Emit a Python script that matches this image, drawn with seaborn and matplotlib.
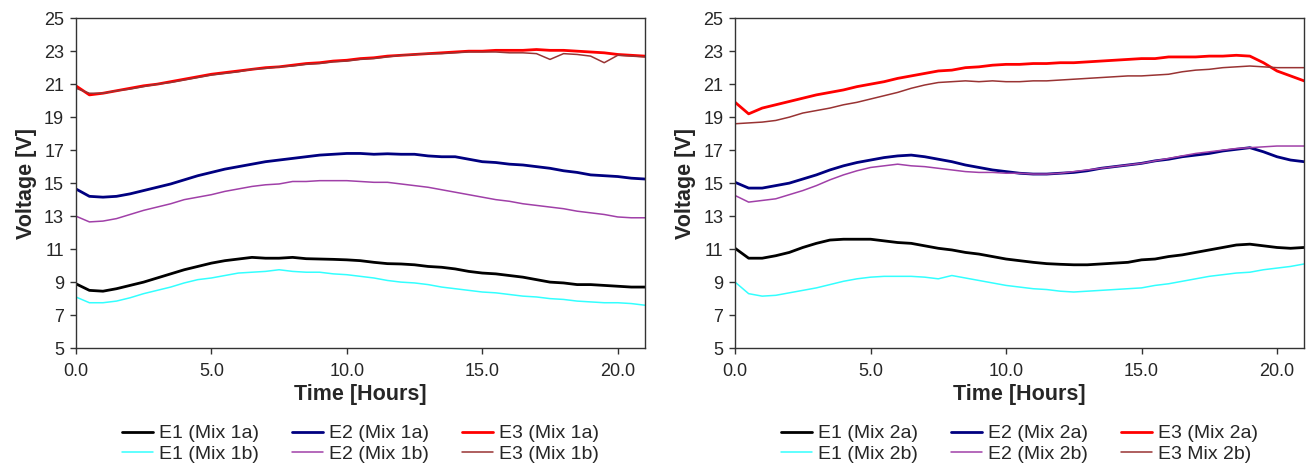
import numpy as np
import pandas as pd
import matplotlib.pyplot as plt
import seaborn as sns

hours = [0.0, 0.5, 1.0, 1.5, 2.0, 2.5, 3.0, 3.5, 4.0, 4.5, 5.0, 5.5, 6.0, 6.5, 7.0,
         7.5, 8.0, 8.5, 9.0, 9.5, 10.0, 10.5, 11.0, 11.5, 12.0, 12.5, 13.0, 13.5,
         14.0, 14.5, 15.0, 15.5, 16.0, 16.5, 17.0, 17.5, 18.0, 18.5, 19.0, 19.5,
         20.0, 20.5, 21.0]

# left panel: Mix 1a / 1b
e1_1a = [8.9, 8.5, 8.45, 8.6, 8.8, 9.0, 9.25, 9.5, 9.75, 9.95, 10.15, 10.3, 10.4, 10.5, 10.45,
         10.45, 10.5, 10.42, 10.4, 10.38, 10.35, 10.3, 10.2, 10.12, 10.1, 10.05, 9.95, 9.9,
         9.8, 9.65, 9.55, 9.5, 9.4, 9.3, 9.15, 9.0, 8.95, 8.85, 8.85, 8.8, 8.75, 8.7, 8.7]
e1_1b = [8.1, 7.75, 7.75, 7.85, 8.05, 8.3, 8.5, 8.7, 8.95, 9.15, 9.25, 9.4, 9.55, 9.6, 9.65,
         9.75, 9.65, 9.6, 9.6, 9.5, 9.45, 9.35, 9.25, 9.1, 9.0, 8.95, 8.85, 8.7, 8.6, 8.5,
         8.4, 8.35, 8.25, 8.15, 8.1, 8.0, 7.95, 7.85, 7.8, 7.75, 7.75, 7.7, 7.6]
e2_1a = [14.65, 14.2, 14.15, 14.2, 14.35, 14.55, 14.75, 14.95, 15.2, 15.45, 15.65, 15.85, 16.0,
         16.15, 16.3, 16.4, 16.5, 16.6, 16.7, 16.75, 16.8, 16.8, 16.75, 16.78, 16.75, 16.75,
         16.65, 16.6, 16.6, 16.45, 16.3, 16.25, 16.15, 16.1, 16.0, 15.9, 15.75, 15.65, 15.5,
         15.45, 15.4, 15.3, 15.25]
e2_1b = [13.0, 12.65, 12.7, 12.85, 13.1, 13.35, 13.55, 13.75, 14.0, 14.15, 14.3, 14.5, 14.65,
         14.8, 14.9, 14.95, 15.1, 15.1, 15.15, 15.15, 15.15, 15.1, 15.05, 15.05, 14.95, 14.85,
         14.75, 14.6, 14.45, 14.3, 14.15, 14.0, 13.9, 13.75, 13.65, 13.55, 13.45, 13.3, 13.2,
         13.1, 12.95, 12.9, 12.9]
e3_1a = [20.9, 20.35, 20.45, 20.6, 20.75, 20.9, 21.0, 21.15, 21.3, 21.45, 21.6, 21.7, 21.8,
         21.9, 22.0, 22.05, 22.15, 22.25, 22.3, 22.4, 22.45, 22.55, 22.6, 22.7, 22.75, 22.8,
         22.85, 22.9, 22.95, 23.0, 23.0, 23.05, 23.05, 23.05, 23.1, 23.05, 23.05, 23.0, 22.95,
         22.9, 22.8, 22.75, 22.7]
e3_1b = [20.75, 20.45, 20.45, 20.6, 20.7, 20.85, 21.0, 21.1, 21.25, 21.4, 21.55, 21.65, 21.75,
         21.9, 21.95, 22.05, 22.1, 22.2, 22.25, 22.35, 22.4, 22.5, 22.55, 22.65, 22.75, 22.8,
         22.85, 22.85, 22.9, 22.95, 22.95, 22.95, 22.9, 22.9, 22.85, 22.5, 22.85, 22.8, 22.7,
         22.3, 22.75, 22.7, 22.65]

# right panel: Mix 2a / 2b
e1_2a = [11.05, 10.45, 10.45, 10.6, 10.8, 11.1, 11.35, 11.55, 11.6, 11.6, 11.6, 11.5, 11.4,
         11.35, 11.2, 11.05, 10.95, 10.8, 10.7, 10.55, 10.4, 10.3, 10.2, 10.12, 10.08, 10.05,
         10.05, 10.1, 10.15, 10.2, 10.35, 10.4, 10.55, 10.65, 10.8, 10.95, 11.1, 11.25, 11.3,
         11.2, 11.1, 11.05, 11.1]
e1_2b = [9.0, 8.3, 8.15, 8.2, 8.35, 8.5, 8.65, 8.85, 9.05, 9.2, 9.3, 9.35, 9.35, 9.35, 9.3,
         9.2, 9.4, 9.25, 9.1, 8.95, 8.8, 8.7, 8.6, 8.55, 8.45, 8.4, 8.45, 8.5, 8.55, 8.6, 8.65,
         8.8, 8.9, 9.05, 9.2, 9.35, 9.45, 9.55, 9.6, 9.75, 9.85, 9.95, 10.1]
e2_2a = [15.05, 14.7, 14.7, 14.85, 15.0, 15.25, 15.5, 15.8, 16.05, 16.25, 16.4, 16.55, 16.65,
         16.7, 16.6, 16.45, 16.3, 16.1, 15.95, 15.8, 15.7, 15.6, 15.55, 15.55, 15.6, 15.65,
         15.75, 15.9, 16.0, 16.1, 16.2, 16.35, 16.45, 16.6, 16.7, 16.8, 16.95, 17.05, 17.15,
         16.9, 16.6, 16.4, 16.3]
e2_2b = [14.25, 13.85, 13.95, 14.05, 14.3, 14.55, 14.85, 15.2, 15.5, 15.75, 15.95, 16.05, 16.15,
         16.05, 16.0, 15.9, 15.8, 15.7, 15.65, 15.65, 15.6, 15.6, 15.55, 15.55, 15.6, 15.7,
         15.8, 15.9, 16.0, 16.1, 16.2, 16.35, 16.5, 16.65, 16.8, 16.9, 17.0, 17.1, 17.15, 17.2,
         17.25, 17.25, 17.25]
e3_2a = [19.9, 19.2, 19.55, 19.75, 19.95, 20.15, 20.35, 20.5, 20.65, 20.85, 21.0, 21.15, 21.35,
         21.5, 21.65, 21.8, 21.85, 22.0, 22.05, 22.15, 22.2, 22.2, 22.25, 22.25, 22.3, 22.3,
         22.35, 22.4, 22.45, 22.5, 22.55, 22.55, 22.65, 22.65, 22.65, 22.7, 22.7, 22.75, 22.7,
         22.3, 21.8, 21.5, 21.2]
e3_2b = [18.6, 18.65, 18.7, 18.8, 19.0, 19.25, 19.4, 19.55, 19.75, 19.9, 20.1, 20.3, 20.5,
         20.75, 20.95, 21.1, 21.15, 21.2, 21.15, 21.2, 21.15, 21.15, 21.2, 21.2, 21.25, 21.3,
         21.35, 21.4, 21.45, 21.5, 21.5, 21.55, 21.6, 21.75, 21.85, 21.9, 22.0, 22.05, 22.1,
         22.05, 22.0, 22.0, 22.0]

labels_1 = ["E1 (Mix 1a)", "E1 (Mix 1b)", "E2 (Mix 1a)", "E2 (Mix 1b)", "E3 (Mix 1a)", "E3 (Mix 1b)"]
labels_2 = ["E1 (Mix 2a)", "E1 (Mix 2b)", "E2 (Mix 2a)", "E2 (Mix 2b)", "E3 (Mix 2a)", "E3 Mix 2b)"]
series_1 = [e1_1a, e1_1b, e2_1a, e2_1b, e3_1a, e3_1b]
series_2 = [e1_2a, e1_2b, e2_2a, e2_2b, e3_2a, e3_2b]

colors = ["#000000", "#33ffff", "#000080", "#a040a8", "#ff0000", "#993333"]
widths = [2.0, 1.1, 2.0, 1.1, 2.0, 1.1]

sns.set_style("ticks")
plt.rcParams['font.family'] = ['Liberation Sans', 'DejaVu Sans']

fig = plt.figure(figsize=(13.08, 4.66), dpi=100)
ax1 = fig.add_axes([0.058, 0.253, 0.435, 0.708])
ax2 = fig.add_axes([0.562, 0.253, 0.435, 0.708])

for ax, labels, series in [(ax1, labels_1, series_1), (ax2, labels_2, series_2)]:
    df = pd.DataFrame({'Time': hours * 6,
                       'Voltage': np.concatenate(series),
                       'Series': np.repeat(labels, len(hours))})
    sns.lineplot(data=df, x='Time', y='Voltage', hue='Series', hue_order=labels,
                 palette=colors, size='Series', sizes=dict(zip(labels, widths)),
                 size_order=labels, estimator=None, ax=ax)
    ax.set_xlim(0, 21)
    ax.set_ylim(5, 25)
    ax.set_yticks(range(5, 26, 2))
    ax.set_xticks([0, 5, 10, 15, 20])
    ax.set_xticklabels(["0.0", "5.0", "10.0", "15.0", "20.0"])
    ax.tick_params(labelsize=13, length=4.5, width=1.0, color='#333333', pad=4)
    ax.tick_params(axis='x', pad=6)
    for s in ax.spines.values():
        s.set_color('#333333')
        s.set_linewidth(1.0)
    ax.set_xlabel('Time [Hours]', fontsize=15.5, fontweight='bold', labelpad=3)
    ax.set_ylabel('Voltage [V]', fontsize=15.5, fontweight='bold', labelpad=5)
    ax.legend(loc='center', bbox_to_anchor=(0.5, -0.29), ncol=3, frameon=False,
              fontsize=14, handlelength=1.6, handletextpad=0.3, columnspacing=1.7,
              labelspacing=0.15)

fig.savefig('out.png', dpi=100)
